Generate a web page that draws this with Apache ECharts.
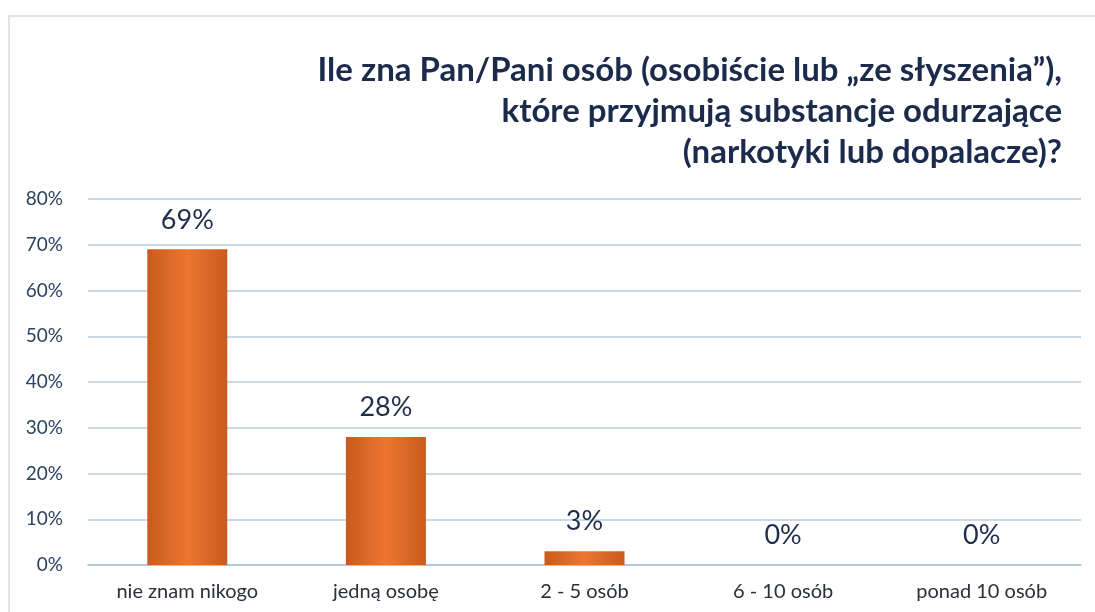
<!DOCTYPE html>
<html>
<head>
<meta charset="utf-8">
<script src="https://cdn.jsdelivr.net/npm/echarts@6/dist/echarts.min.js"></script>
<style>
html, body { margin: 0; padding: 0; background: #fff; }
#chart { width: 1095px; height: 612px; }
</style>
</head>
<body>
<div id="chart"></div>
<script>
var titleText = 'Ile zna Pan/Pani osób (osobiście lub „ze słyszenia”),\nktóre przyjmują substancje odurzające\n(narkotyki lub dopalacze)?';
var categories = ['nie znam nikogo', 'jedną osobę', '2 - 5 osób', '6 - 10 osób', 'ponad 10 osób'];
var values = [69, 28, 3, 0, 0];

var chart = echarts.init(document.getElementById('chart'));
var barColor = new echarts.graphic.LinearGradient(0, 0, 1, 0, [
    { offset: 0, color: '#c85b1e' },
    { offset: 0.5, color: '#ec7630' },
    { offset: 1, color: '#c85b1e' }
]);
chart.setOption({
    backgroundColor: '#fff',
    textStyle: { fontFamily: 'Lato' },
    graphic: [{
        type: 'rect',
        shape: { x: 9, y: 16, width: 1100, height: 620 },
        style: { fill: 'none', stroke: '#d6dbe2', lineWidth: 1.5 },
        silent: true
    }, {
        // title, right aligned on three lines
        type: 'text',
        x: 1062,
        y: 50,
        style: {
            text: titleText,
            align: 'right',
            verticalAlign: 'top',
            font: 'bold 33px Lato',
            lineHeight: 41,
            fill: '#1c2b4b'
        },
        silent: true
    }],
    grid: {
        left: 88,
        right: 14,
        top: 199,
        bottom: 47
    },
    xAxis: {
        type: 'category',
        data: categories,
        axisTick: { show: false },
        axisLine: { lineStyle: { color: '#a9bfd6', width: 1.5 } },
        axisLabel: {
            color: '#2a2f3a',
            fontSize: 20,
            margin: 17
        }
    },
    yAxis: {
        type: 'value',
        min: 0,
        max: 80,
        interval: 10,
        axisLine: { show: false },
        axisTick: { show: false },
        splitLine: { lineStyle: { color: '#b9cce0', width: 1.5 } },
        axisLabel: {
            formatter: '{value}%',
            color: '#2b4363',
            fontSize: 19,
            margin: 25
        }
    },
    series: [{
        type: 'bar',
        data: values,
        barWidth: 80,
        itemStyle: { color: barColor },
        label: {
            show: true,
            position: 'top',
            distance: 16,
            formatter: '{c}%',
            fontSize: 27,
            color: '#1f2e4a'
        }
    }]
});
window.addEventListener('resize', function () {
    chart.resize();
});
</script>
</body>
</html>
